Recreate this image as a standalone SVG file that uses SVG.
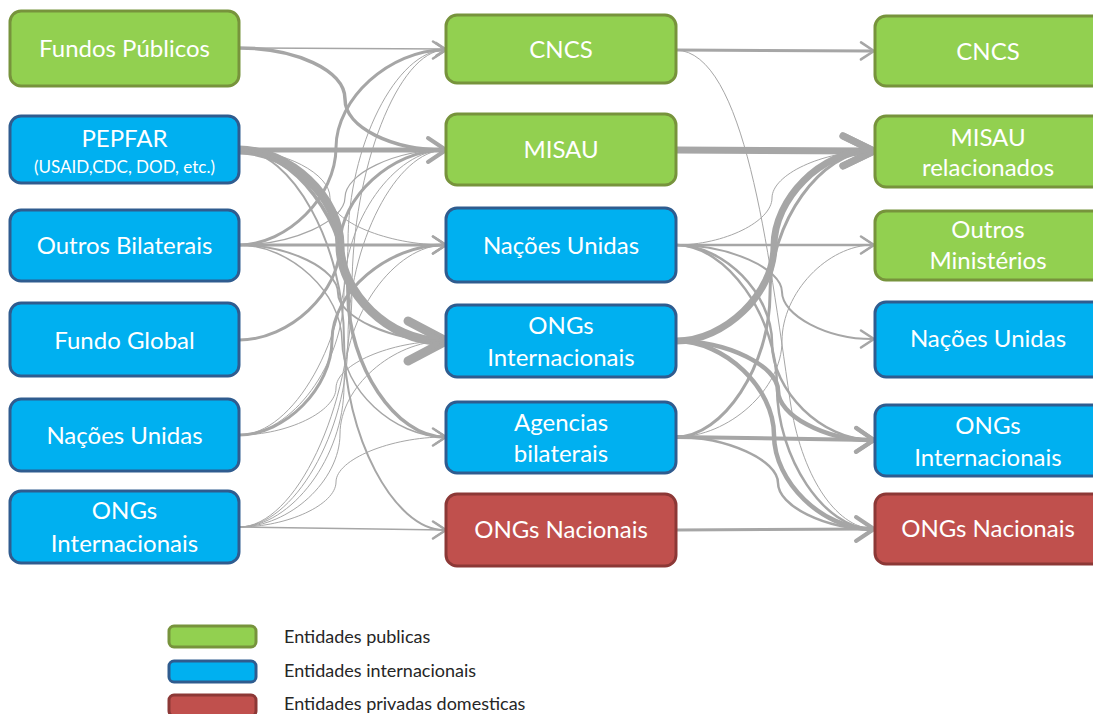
<svg xmlns="http://www.w3.org/2000/svg" width="1093" height="714" viewBox="0 0 1093 714">
<style>
.n rect{stroke-width:3}
.g rect{fill:#92D050;stroke:#77933C}
.b rect{fill:#00B0F0;stroke:#2F5C8F}
.r rect{fill:#C0504D;stroke:#8C3836}
.n text{font-family:Lato,"Liberation Sans",sans-serif;font-size:24px;fill:#fff;text-anchor:middle}
.n text.sub{font-size:17px}
.c path{fill:none;stroke:#A6A6A6;stroke-linecap:butt}
.lg text{font-family:Lato,"Liberation Sans",sans-serif;font-size:18px;fill:#262626}
.mk{fill:none;stroke:#A6A6A6;stroke-linecap:round;stroke-linejoin:round}
</style>
<defs>
<marker id="as" markerUnits="userSpaceOnUse" orient="auto" overflow="visible" refX="0" refY="0" markerWidth="1" markerHeight="1"><path class="mk" d="M-9,-6.5 L1,0 L-9,6.5" stroke-width="1.6"/></marker>
<marker id="am" markerUnits="userSpaceOnUse" orient="auto" overflow="visible" refX="0" refY="0" markerWidth="1" markerHeight="1"><path class="mk" d="M-11,-8.5 L2,0 L-11,8.5" stroke-width="2.6"/></marker>
<marker id="aml" markerUnits="userSpaceOnUse" orient="auto" overflow="visible" refX="0" refY="0" markerWidth="1" markerHeight="1"><path class="mk" d="M-15,-12 L3,0 L-15,12" stroke-width="4"/></marker>
<marker id="al" markerUnits="userSpaceOnUse" orient="auto" overflow="visible" refX="0" refY="0" markerWidth="1" markerHeight="1"><path class="mk" d="M-26,-15 L5,0 L-26,15" stroke-width="7"/></marker>
<marker id="axl" markerUnits="userSpaceOnUse" orient="auto" overflow="visible" refX="0" refY="0" markerWidth="1" markerHeight="1"><path class="mk" d="M-32,-20 L6,0 L-32,20" stroke-width="9"/></marker>
</defs>
<g id="connectors" class="c">
<path d="M239,48 L445,49" stroke-width="1.5" marker-end="url(#as)"/>
<path d="M239,48 C295,48 345,70 345,99 C345,128 393,150 444,150" stroke-width="3.5" marker-end="url(#am)"/>
<path d="M239,150 L443,150" stroke-width="5" marker-end="url(#aml)"/>
<path d="M239,150 C289.5,150 340,197.75 340,245.5 C340,293.25 390,341 440,341" stroke-width="9" marker-end="url(#axl)"/>
<path d="M239,150 C293.5,150 348,221.75 348,293.5 C348,365.25 396,437 444,437" stroke-width="3.5" marker-end="url(#am)"/>
<path d="M239,150 C284.5,150 330,173.75 330,197.5 C330,221.25 387.5,245 445,245" stroke-width="1" marker-end="url(#as)"/>
<path d="M239,150 C291.5,150 344,245 344,340 C344,435 394,530 444,530" stroke-width="2" marker-end="url(#am)"/>
<path d="M239,245 C287.5,245 336,196.25 336,147.5 C336,98.75 390,50 444,50" stroke-width="3" marker-end="url(#am)"/>
<path d="M239,245 C292,245 345,221.25 345,197.5 C345,173.75 395,150 445,150" stroke-width="1.2" marker-end="url(#as)"/>
<path d="M239,245 L444,245" stroke-width="3" marker-end="url(#am)"/>
<path d="M239,245 C288.5,245 338,269 338,293 C338,317 391,341 444,341" stroke-width="2" marker-end="url(#am)"/>
<path d="M239,245 C290.5,245 342,293 342,341 C342,389 393.5,437 445,437" stroke-width="1.5" marker-end="url(#as)"/>
<path d="M239,340 C289.5,340 340,292.5 340,245 C340,197.5 392,150 444,150" stroke-width="3" marker-end="url(#am)"/>
<path d="M239,435 C285.5,435 332,387.5 332,340 C332,292.5 388,245 444,245" stroke-width="3" marker-end="url(#am)"/>
<path d="M239,435 C293.5,435 348,338.75 348,242.5 C348,146.25 396.5,50 445,50" stroke-width="1" marker-end="url(#as)"/>
<path d="M239,435 C291.5,435 344,363.75 344,292.5 C344,221.25 394.5,150 445,150" stroke-width="1" marker-end="url(#as)"/>
<path d="M239,435 C287.5,435 336,411.5 336,388 C336,364.5 390.5,341 445,341" stroke-width="1" marker-end="url(#as)"/>
<path d="M239,527 C295.5,527 352,407.75 352,288.5 C352,169.25 398.5,50 445,50" stroke-width="1" marker-end="url(#as)"/>
<path d="M239,527 C293.5,527 348,432.75 348,338.5 C348,244.25 396.5,150 445,150" stroke-width="1" marker-end="url(#as)"/>
<path d="M239,527 C291.5,527 344,456.5 344,386 C344,315.5 394.5,245 445,245" stroke-width="1" marker-end="url(#as)"/>
<path d="M239,527 C289.5,527 340,480.5 340,434 C340,387.5 392.5,341 445,341" stroke-width="1" marker-end="url(#as)"/>
<path d="M239,527 C287.5,527 336,504.5 336,482 C336,459.5 390.5,437 445,437" stroke-width="1" marker-end="url(#as)"/>
<path d="M239,527 L445,530" stroke-width="1.5" marker-end="url(#as)"/>
<path d="M676,50 L872,51" stroke-width="3" marker-end="url(#am)"/>
<path d="M676,50 C745,52 768,250 790,400 C801,475 835,527 873,529" stroke-width="1" marker-end="url(#as)"/>
<path d="M676,150 L869,151" stroke-width="7" marker-end="url(#al)"/>
<path d="M676,245 L872,245" stroke-width="2.5" marker-end="url(#am)"/>
<path d="M676,245 C724,245 772,221.5 772,198 C772,174.5 822.5,151 873,151" stroke-width="1" marker-end="url(#as)"/>
<path d="M676,245 C729,245 782,268.5 782,292 C782,315.5 827,339 872,339" stroke-width="2" marker-end="url(#am)"/>
<path d="M676,245 C724,245 772,293.75 772,342.5 C772,391.25 822,440 872,440" stroke-width="2.5" marker-end="url(#am)"/>
<path d="M676,245 C726.5,245 777,316 777,387 C777,458 824.5,529 872,529" stroke-width="2.5" marker-end="url(#am)"/>
<path d="M676,341 C725,341 774,293.5 774,246 C774,198.5 821.5,151 869,151" stroke-width="7" marker-end="url(#al)"/>
<path d="M676,341 C727,341 778,365.75 778,390.5 C778,415.25 824.5,440 871,440" stroke-width="4.5" marker-end="url(#aml)"/>
<path d="M676,341 C725,341 774,388 774,435 C774,482 822.5,529 871,529" stroke-width="4.5" marker-end="url(#aml)"/>
<path d="M676,437 L871,440" stroke-width="4" marker-end="url(#aml)"/>
<path d="M676,437 C723,437 770,365.5 770,294 C770,222.5 821,151 872,151" stroke-width="3" marker-end="url(#am)"/>
<path d="M676,437 C729,437 782,389 782,341 C782,293 827.5,245 873,245" stroke-width="1" marker-end="url(#as)"/>
<path d="M676,437 C727,437 778,460 778,483 C778,506 825,529 872,529" stroke-width="2.5" marker-end="url(#am)"/>
<path d="M676,530 L872,529" stroke-width="3" marker-end="url(#am)"/>
</g>
<g id="n-fundos-publicos" class="n g"><rect x="10" y="11" width="229" height="75" rx="11"/><text x="124.5" y="57">Fundos Públicos</text></g>
<g id="n-pepfar" class="n b"><rect x="10" y="116" width="229" height="67" rx="11"/><text x="124.5" y="147">PEPFAR</text><text class="sub" x="124.5" y="173">(USAID,CDC, DOD, etc.)</text></g>
<g id="n-outros-bilaterais" class="n b"><rect x="10" y="210" width="229" height="71" rx="11"/><text x="124.5" y="254">Outros Bilaterais</text></g>
<g id="n-fundo-global" class="n b"><rect x="10" y="303" width="229" height="73" rx="11"/><text x="124.5" y="349">Fundo Global</text></g>
<g id="n-nacoes-unidas-src" class="n b"><rect x="10" y="399" width="229" height="72" rx="11"/><text x="124.5" y="444">Nações Unidas</text></g>
<g id="n-ongs-int-src" class="n b"><rect x="10" y="491" width="229" height="72" rx="11"/><text x="124.5" y="519">ONGs</text><text x="124.5" y="552">Internacionais</text></g>
<g id="n-cncs-agent" class="n g"><rect x="446" y="15" width="230" height="68" rx="11"/><text x="561" y="58">CNCS</text></g>
<g id="n-misau-agent" class="n g"><rect x="446" y="114" width="230" height="71" rx="11"/><text x="561" y="158">MISAU</text></g>
<g id="n-nacoes-unidas-agent" class="n b"><rect x="446" y="208" width="230" height="74" rx="11"/><text x="561" y="254">Nações Unidas</text></g>
<g id="n-ongs-int-agent" class="n b"><rect x="446" y="305" width="230" height="72" rx="11"/><text x="561" y="334">ONGs</text><text x="561" y="366">Internacionais</text></g>
<g id="n-agencias-bilaterais" class="n b"><rect x="446" y="402" width="230" height="71" rx="11"/><text x="561" y="431">Agencias</text><text x="561" y="462">bilaterais</text></g>
<g id="n-ongs-nac-agent" class="n r"><rect x="446" y="494" width="230" height="72" rx="11"/><text x="561" y="538">ONGs Nacionais</text></g>
<g id="n-cncs-prov" class="n g"><rect x="875" y="16" width="228" height="70" rx="11"/><text x="988" y="60">CNCS</text></g>
<g id="n-misau-rel" class="n g"><rect x="875" y="116" width="228" height="71" rx="11"/><text x="988" y="146">MISAU</text><text x="988" y="176">relacionados</text></g>
<g id="n-outros-ministerios" class="n g"><rect x="875" y="211" width="228" height="69" rx="11"/><text x="988" y="238">Outros</text><text x="988" y="269">Ministérios</text></g>
<g id="n-nacoes-unidas-prov" class="n b"><rect x="875" y="302" width="228" height="75" rx="11"/><text x="988" y="347">Nações Unidas</text></g>
<g id="n-ongs-int-prov" class="n b"><rect x="875" y="405" width="228" height="71" rx="11"/><text x="988" y="434">ONGs</text><text x="988" y="466">Internacionais</text></g>
<g id="n-ongs-nac-prov" class="n r"><rect x="875" y="494" width="228" height="70" rx="11"/><text x="988" y="537">ONGs Nacionais</text></g>
<g id="legend" class="lg">
<g class="n g"><rect x="169" y="626" width="87" height="21" rx="5"/></g>
<g class="n b"><rect x="169" y="661" width="87" height="21" rx="5"/></g>
<g class="n r"><rect x="169" y="695" width="87" height="21" rx="5"/></g>
<text x="284" y="643">Entidades publicas</text>
<text x="284" y="677">Entidades internacionais</text>
<text x="284" y="710">Entidades privadas domesticas</text>
</g>
</svg>
